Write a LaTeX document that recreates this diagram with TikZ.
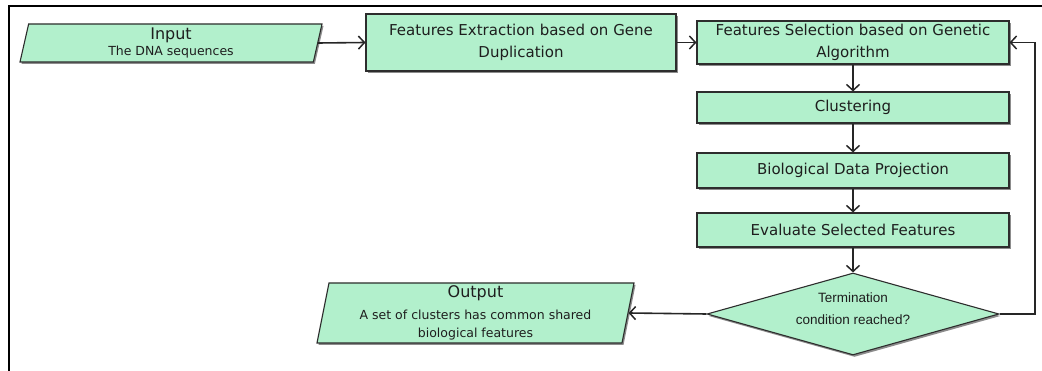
\documentclass[tikz,border=0pt]{standalone}
\usepackage{fontspec}
\setmainfont{DejaVu Sans}
\newfontfamily\arialf{Liberation Sans}
\usetikzlibrary{shapes.geometric,arrows.meta,shadows}
\definecolor{boxfill}{RGB}{178,240,204}
\definecolor{boxline}{RGB}{45,45,45}
\definecolor{txt}{RGB}{30,30,30}
\tikzset{
  shad/.style={drop shadow={shadow xshift=1.5pt,shadow yshift=-2pt,opacity=0.45,fill=black}},
  procbox/.style={draw=boxline,line width=1.1pt,fill=boxfill,shad,align=center,text=txt,
    inner sep=2pt,font=\fontsize{15}{22}\selectfont},
  iobox/.style={trapezium,trapezium stretches body,draw=boxline,line width=1.1pt,fill=boxfill,shad,
    align=center,text=txt,inner sep=1pt,font=\fontsize{12.5}{16}\selectfont},
  decbox/.style={diamond,aspect=3.5,draw=boxline,line width=1.1pt,fill=boxfill,shad,align=center,
    text=txt,inner sep=0pt,font=\arialf\fontsize{13.5}{22}\selectfont},
  arr/.style={draw=black!85,line width=1.6pt,-{Straight Barb[length=6pt,width=13pt,line width=1.5pt]}},
}
\begin{document}
\begin{tikzpicture}[x=1pt,y=-1pt]
\useasboundingbox (0,0) rectangle (1042,371);
\draw[line width=2.6pt,black] (9,371) -- (9,6) -- (1042,6);

\node[iobox,trapezium left angle=75,trapezium right angle=105,minimum width=302pt,minimum height=38pt]
  (in) at (171,43) {{\fontsize{16}{17}\selectfont Input}\\The DNA sequences};
\node[procbox,minimum width=310pt,minimum height=57pt] (fe) at (521,42.5)
  {Features Extraction based on Gene\\Duplication};
\node[procbox,minimum width=312pt,minimum height=43pt] (fs) at (853,42.5)
  {Features Selection based on Genetic\\Algorithm};
\node[procbox,minimum width=312pt,minimum height=31pt] (cl) at (853,107.5) {Clustering};
\node[procbox,minimum width=312pt,minimum height=35pt] (bd) at (853,170.5) {Biological Data Projection};
\node[procbox,minimum width=312pt,minimum height=34pt] (ev) at (853,230) {Evaluate Selected Features};
\node[decbox,minimum width=292pt,minimum height=82pt] (tc) at (853,314)
  {Termination\\condition reached?\\[-12pt]\mbox{}};
\node[iobox,trapezium left angle=78,trapezium right angle=102,minimum width=317pt,minimum height=60pt]
  (out) at (475.5,313) {{\fontsize{16}{17}\selectfont Output}\\[6pt]A set of clusters has common shared\\[2pt]biological features};

\coordinate (fb) at (1035,42.5);
\draw[arr] (in.east) -- (fe.west);
\draw[arr] (fe.east) -- (fs.west);
\draw[arr] (fs.south) -- (cl.north);
\draw[arr] (cl.south) -- (bd.north);
\draw[arr] (bd.south) -- (ev.north);
\draw[arr] (ev.south) -- (tc.north);
\draw[arr] (tc.east) -| (fb) -- (fs.east);
\draw[arr] (tc.west) -- (out.east);
\end{tikzpicture}
\end{document}
